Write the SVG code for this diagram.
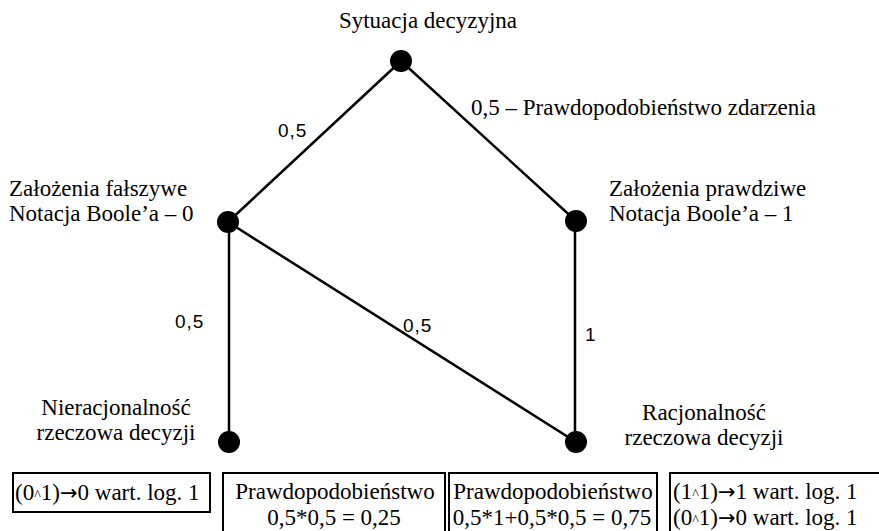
<svg xmlns="http://www.w3.org/2000/svg" width="879" height="531" viewBox="0 0 879 531">
<style>
.t{font-family:"Liberation Serif","Times New Roman",serif;font-size:23px;fill:#000}
.m{text-anchor:middle}
.s{font-family:"Liberation Sans",Arial,sans-serif;font-size:19px;fill:#000;letter-spacing:1px}
.e{stroke:#000;stroke-width:2.5;fill:none}
.b{stroke:#000;stroke-width:2;fill:#fff}
.n{fill:#000}
.c{font-size:14px}
.a{font-family:"DejaVu Sans",sans-serif;font-size:21px}
</style>
<rect width="879" height="531" fill="#fff"/>
<g id="connectors">
<line class="e" x1="401" y1="61" x2="228" y2="222"/>
<line class="e" x1="401" y1="61" x2="576" y2="221"/>
<line class="e" x1="229" y1="222" x2="229" y2="442"/>
<line class="e" x1="228" y1="222" x2="576" y2="442"/>
<line class="e" x1="575" y1="221" x2="575" y2="442"/>
<text class="s" x="278" y="137">0,5</text>
<text class="t" x="471" y="115">0,5 – Prawdopodobieństwo zdarzenia</text>
<text class="s" x="175" y="328">0,5</text>
<text class="s" x="403" y="332">0,5</text>
<text class="s" x="585" y="341">1</text>
</g>
<g id="n-sytuacja">
<circle class="n" cx="401" cy="61" r="11"/>
<text class="t m" x="428" y="28">Sytuacja decyzyjna</text>
</g>
<g id="n-falszywe">
<circle class="n" cx="228" cy="222" r="11"/>
<text class="t" x="9" y="196">Założenia fałszywe</text>
<text class="t" x="9" y="221">Notacja Boole’a – 0</text>
</g>
<g id="n-prawdziwe">
<circle class="n" cx="576" cy="221" r="11"/>
<text class="t" x="609" y="196">Założenia prawdziwe</text>
<text class="t" x="609" y="221">Notacja Boole’a – 1</text>
</g>
<g id="n-nieracjonalnosc">
<circle class="n" cx="229" cy="442" r="11"/>
<text class="t m" x="116" y="415">Nieracjonalność</text>
<text class="t m" x="116" y="440">rzeczowa decyzji</text>
</g>
<g id="n-racjonalnosc">
<circle class="n" cx="576" cy="442" r="11"/>
<text class="t m" x="704" y="420">Racjonalność</text>
<text class="t m" x="704" y="445">rzeczowa decyzji</text>
</g>
<g id="box1">
<rect class="b" x="13" y="473" width="197" height="39"/>
<text class="t" x="15" y="500">(0<tspan class="c">^</tspan>1)<tspan class="a">→</tspan>0 wart. log. 1</text>
</g>
<g id="box2">
<rect class="b" x="223" y="473" width="222" height="62"/>
<text class="t m" x="335" y="499">Prawdopodobieństwo</text>
<text class="t m" x="334" y="525">0,5*0,5 = 0,25</text>
</g>
<g id="box3">
<rect class="b" x="449" y="473" width="208" height="62"/>
<text class="t m" x="553" y="499">Prawdopodobieństwo</text>
<text class="t m" x="552" y="525">0,5*1+0,5*0,5 = 0,75</text>
</g>
<g id="box4">
<rect class="b" x="670" y="473" width="215" height="62"/>
<text class="t" x="673" y="499">(1<tspan class="c">^</tspan>1)<tspan class="a">→</tspan>1 wart. log. 1</text>
<text class="t" x="673" y="525">(0<tspan class="c">^</tspan>1)<tspan class="a">→</tspan>0 wart. log. 1</text>
</g>
</svg>
